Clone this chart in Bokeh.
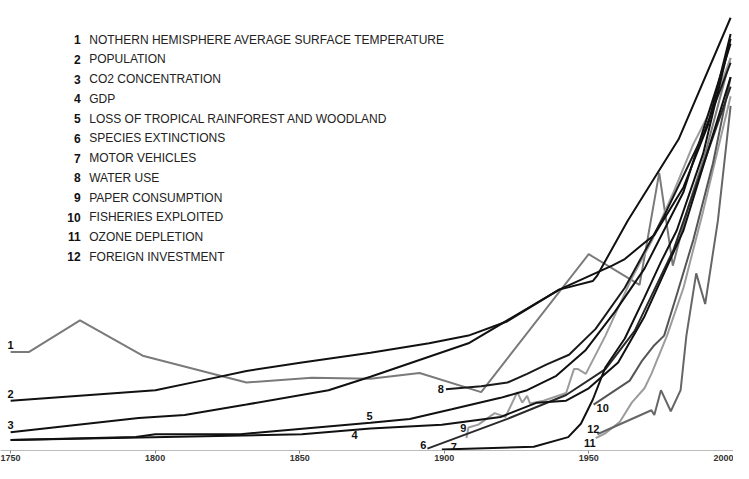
from bokeh.plotting import figure
from bokeh.models import FixedTicker
from bokeh.core.properties import value
from bokeh.embed import file_html
from bokeh.resources import INLINE
import numpy as np

legend_numbers = ["1", "2", "3", "4", "5", "6", "7", "8", "9", "10", "11", "12"]
legend_names = [
    "NOTHERN HEMISPHERE AVERAGE SURFACE TEMPERATURE",
    "POPULATION",
    "CO2 CONCENTRATION",
    "GDP",
    "LOSS OF TROPICAL RAINFOREST AND WOODLAND",
    "SPECIES EXTINCTIONS",
    "MOTOR VEHICLES",
    "WATER USE",
    "PAPER CONSUMPTION",
    "FISHERIES EXPLOITED",
    "OZONE DEPLETION",
    "FOREIGN INVESTMENT",
]
tick_years = [1750, 1800, 1850, 1900, 1950, 2000]

# 1 temperature
temp_years = [1750, 1756.4, 1774, 1795.7, 1831.6, 1854.2, 1874.5, 1891.5, 1912.8, 1950, 1967.6, 1974.4, 1979.1, 1984.5, 1990.3, 1999.1]
temp_index = [103, 103, 136, 99, 71, 76, 75, 81, 61, 205, 173, 290, 193, 255, 310, 410]
# 2 population
pop_years = [1750, 1800.1, 1816, 1831.6, 1850.8, 1874.5, 1894.8, 1908.4, 1921.9, 1939.8, 1951.4, 1953, 1963.5, 1981.1, 1999.1]
pop_index = [52, 63, 73, 83, 92, 102, 112, 120, 135, 168, 177, 183, 240, 325, 452]
# 3 CO2
co2_years = [1750, 1794.3, 1810.2, 1831.6, 1860, 1874.5, 1908.4, 1939.8, 1958.1, 1962.5, 1969.3, 1972.7, 1982.8, 1991.3, 1999.1]
co2_index = [19, 34, 37, 48, 63, 77, 112, 168, 193, 200, 217, 225, 275, 340, 435]
# 4 GDP
gdp_years = [1750, 1850.8, 1874.5, 1899.2, 1919.5, 1932.1, 1942.2, 1950, 1960.2, 1969.3, 1982.8, 1999.1]
gdp_index = [11, 17, 23, 27, 35, 50, 52, 65, 92, 140, 230, 390]
# 5 loss of tropical rainforest
forest_years = [1750, 1793.3, 1800.1, 1829.5, 1874.5, 1888.1, 1902.6, 1919.5, 1928.7, 1938.8, 1949, 1959.1, 1969.3, 1982.8, 1999.1]
forest_index = [11, 14, 17, 17, 29, 33, 43, 55, 63, 78, 105, 145, 190, 270, 425]
# 6 species extinctions
species_years = [1894.2, 1921.9, 1942.2, 1955.8, 1965.9, 1979.4, 1999.1]
species_index = [2, 33, 58, 85, 125, 210, 380]
# 7 motor vehicles
vehicle_years = [1899.2, 1931, 1942.9, 1947.3, 1951.4, 1955.8, 1962.5, 1969.3, 1975, 1980.5, 1989.6, 1999.1]
vehicle_index = [1, 4, 14, 28, 53, 87, 117, 160, 197, 230, 310, 430]
# 8 water use
water_years = [1900.6, 1912.8, 1921.9, 1928.7, 1935.5, 1943.2, 1952.4, 1962.5, 1976.1, 1989.6, 1999.1]
water_index = [64, 67, 71, 80, 90, 100, 127, 170, 245, 330, 405]
# 9 paper consumption
paper_years = [1907.7, 1908.4, 1911.8, 1917.5, 1921.2, 1925.3, 1927, 1928.7, 1929.7, 1934.4, 1942.2, 1944.9, 1946.3, 1949, 1955.8, 1964.9, 1972, 1979.4, 1986.2, 1993, 1999.1]
paper_index = [13, 24, 27, 39, 35, 61, 50, 57, 49, 52, 60, 85, 85, 80, 120, 180, 220, 270, 320, 360, 410]
# 10 fisheries exploited
fish_years = [1951.7, 1964.2, 1968.3, 1972.7, 1976.1, 1980.5, 1986.2, 1993, 1999.1]
fish_index = [48, 73, 93, 110, 120, 163, 220, 300, 390]
# 11 ozone depletion
ozone_years = [1952.4, 1955.8, 1960.8, 1964.9, 1969.3, 1971.7, 1977.1, 1982.8, 1989.6, 1999.1]
ozone_index = [13, 18, 30, 50, 65, 80, 120, 170, 250, 370]
# 12 foreign investment
invest_years = [1953, 1971.7, 1972.7, 1975, 1978.4, 1981.8, 1983.8, 1987.2, 1990.3, 1994.7, 1999.1]
invest_index = [17, 42, 37, 63, 41, 63, 120, 185, 153, 240, 360]

series = [
    (temp_years, temp_index), (pop_years, pop_index), (co2_years, co2_index),
    (gdp_years, gdp_index), (forest_years, forest_index), (species_years, species_index),
    (vehicle_years, vehicle_index), (water_years, water_index), (paper_years, paper_index),
    (fish_years, fish_index), (ozone_years, ozone_index), (invest_years, invest_index),
]
colors = ["#7a7a7a", "#111111", "#111111", "#111111", "#111111", "#2a2a2a",
          "#111111", "#1a1a1a", "#9c9c9c", "#555555", "#9c9c9c", "#666666"]
draw_order = [0, 8, 10, 11, 9, 5, 3, 4, 7, 6, 2, 1]

# (point index, align, baseline, x offset px, y offset px)
label_style = [
    (0, "left", "bottom", -3, -3),
    (0, "left", "bottom", -3, -3),
    (0, "left", "bottom", -3, -3),
    (2, "center", "top", -16, 3),
    (4, "center", "bottom", -1, -3),
    (0, "right", "bottom", -1, 0),
    (0, "left", "bottom", 9, 1),
    (0, "right", "middle", -2, 0),
    (1, "right", "middle", -2, 0),
    (0, "left", "middle", 3, 3),
    (0, "right", "top", 0, 1),
    (0, "right", "bottom", 2, -1),
]

FONT = value("Liberation Sans")

p = figure(width=733, height=463, x_range=(1746.5, 2000.1), y_range=(0, 470),
           output_backend="svg", toolbar_location=None, y_axis_location=None,
           min_border=0)
p.outline_line_color = None
p.xgrid.visible = False
p.ygrid.visible = False
p.background_fill_color = "white"

ax = p.xaxis[0]
ax.ticker = FixedTicker(ticks=tick_years)
ax.axis_line_color = "#bbbbbb"
ax.axis_line_width = 1
ax.major_tick_in = 0
ax.major_tick_out = 3
ax.major_tick_line_color = "#888888"
ax.minor_tick_line_color = None
ax.major_label_standoff = 1
ax.major_label_text_align = "left"
ax.major_label_text_font = "Liberation Sans"
ax.major_label_text_font_style = "bold"
ax.major_label_text_font_size = "9px"
ax.major_label_text_color = "#333333"

for i in draw_order:
    xs, ys = series[i]
    p.line(xs, ys, line_color=colors[i], line_width=2)

for i, (idx, align, base, xo, yo) in enumerate(label_style):
    xs, ys = series[i]
    p.text(x=[xs[idx]], y=[ys[idx]], text=[legend_numbers[i]], text_font=FONT,
           text_font_style="bold", text_font_size="11px", text_color="#111111",
           text_align=align, text_baseline=base, x_offset=xo, y_offset=yo)

# legend block (numbers right-aligned, names left-aligned)
legend_top = 429
legend_step = 20.6
rows = np.arange(len(legend_names))
row_y = legend_top - legend_step * rows
p.text(x=[1774.2] * len(rows), y=row_y, text=legend_numbers, text_font=FONT,
       text_font_style="bold", text_font_size="12px", text_color="#111111",
       text_align="right", text_baseline="middle")
p.text(x=[1777.2] * len(rows), y=row_y, text=legend_names, text_font=FONT,
       text_font_size="12px", text_color="#222222",
       text_align="left", text_baseline="middle")

open("out.html", "w").write(file_html(p, INLINE))
